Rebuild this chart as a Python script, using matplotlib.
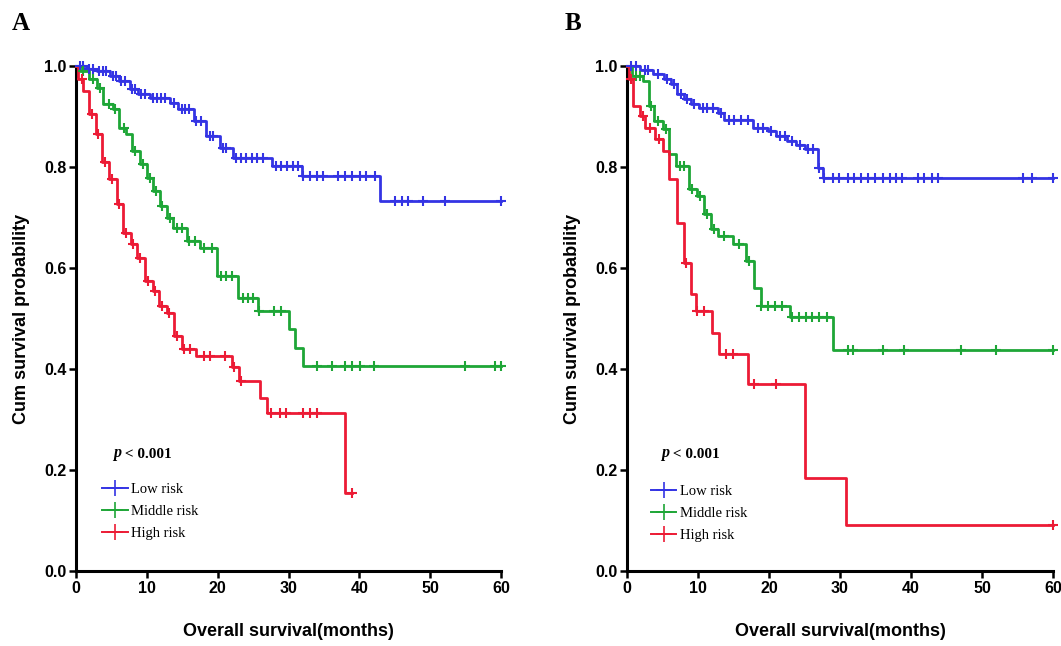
import matplotlib
matplotlib.use("Agg")
import matplotlib.pyplot as plt
from matplotlib.lines import Line2D

# ---------------- data ----------------
groups = ["Low risk", "Middle risk", "High risk"]
colors = ["#3434e4", "#1ea637", "#ec1b35"]

# Panel A
A_low_t = [1.5, 2.9, 4.8, 6.0, 7.6, 8.8, 10.4, 13.3, 14.4, 16.6, 18.4, 20.3, 22.2, 27.6, 31.9, 42.9]
A_low_s = [0.995, 0.99, 0.98, 0.97, 0.954, 0.944, 0.937, 0.927, 0.914, 0.891, 0.861, 0.838, 0.818, 0.802, 0.782, 0.733]
A_low_c = [0.5, 1.0, 1.9, 2.4, 3.3, 3.8, 4.3, 5.2, 5.6, 6.4, 6.9, 7.9, 8.3, 9.2, 9.7, 10.8, 11.4, 12.0,
           12.6, 13.8, 14.9, 15.4, 16.0, 17.0, 17.6, 18.9, 19.4, 20.7, 21.2, 22.6, 23.3, 24.0, 24.8,
           25.6, 26.4, 28.3, 29.0, 29.8, 30.6, 31.3, 32.1, 33.0, 34.0, 34.9, 37.0, 38.0, 38.9, 40.1,
           41.0, 42.2, 45.0, 46.0, 46.9, 49.0, 52.1, 60.0]

A_mid_t = [0.5, 1.8, 2.9, 3.8, 5.2, 6.0, 7.1, 7.9, 9.0, 10.0, 10.9, 11.9, 12.8, 13.7, 15.6, 17.5, 19.9, 22.9, 25.7, 30.0, 30.9, 32.0]
A_mid_s = [0.99, 0.975, 0.957, 0.924, 0.914, 0.878, 0.865, 0.832, 0.805, 0.779, 0.753, 0.723, 0.70, 0.68, 0.653, 0.64, 0.584, 0.541, 0.515, 0.479, 0.442, 0.406]
A_mid_c = [1.0, 2.4, 3.4, 4.6, 5.5, 6.8, 8.3, 9.4, 10.4, 11.3, 12.2, 13.2, 14.2, 14.9, 16.0, 16.8, 18.0,
           19.2, 20.5, 21.2, 22.0, 23.6, 24.3, 25.0, 25.9, 28.0, 28.9, 34.0, 36.1, 38.0, 38.9, 40.1,
           42.0, 54.9, 59.1, 60.0]

A_high_t = [0.3, 1.0, 1.9, 2.8, 3.7, 4.7, 5.8, 6.7, 7.7, 8.6, 9.8, 10.9, 11.7, 12.8, 13.9, 14.9, 17.0, 22.0, 23.0, 26.0, 27.0, 38.0]
A_high_s = [0.975, 0.951, 0.905, 0.865, 0.809, 0.776, 0.726, 0.67, 0.647, 0.62, 0.574, 0.554, 0.525, 0.511, 0.465, 0.439, 0.426, 0.403, 0.376, 0.343, 0.313, 0.155]
A_high_c = [0.8, 2.2, 3.1, 4.1, 5.1, 6.1, 7.0, 8.0, 9.1, 10.1, 11.2, 12.1, 13.1, 14.2, 15.2, 16.1, 18.0,
            18.9, 21.0, 22.3, 23.3, 27.5, 28.8, 29.7, 32.1, 33.0, 34.0, 38.9]

# Panel B
B_low_t = [1.9, 3.6, 5.2, 6.2, 7.1, 8.0, 9.0, 10.2, 12.8, 13.7, 17.7, 19.8, 21.0, 22.6, 23.8, 25.0, 26.9, 27.6]
B_low_s = [0.993, 0.984, 0.974, 0.964, 0.944, 0.934, 0.924, 0.917, 0.907, 0.894, 0.878, 0.871, 0.861, 0.851, 0.843, 0.835, 0.799, 0.779]
B_low_c = [0.6, 1.2, 2.5, 3.0, 4.3, 5.6, 6.6, 7.6, 8.5, 9.5, 10.7, 11.3, 12.1, 13.2, 14.3, 15.0, 16.0,
           17.0, 18.4, 19.1, 20.3, 21.6, 22.2, 23.2, 24.4, 25.5, 26.2, 27.0, 27.8, 29.0, 29.9, 31.1,
           32.0, 33.0, 33.9, 34.9, 36.0, 37.0, 37.9, 38.8, 41.0, 41.9, 42.9, 43.8, 55.8, 57.0, 60.0]

B_mid_t = [0.75, 2.2, 3.1, 3.8, 5.0, 5.9, 6.9, 8.75, 9.9, 10.9, 11.8, 12.8, 14.9, 16.75, 17.9, 18.9, 22.9, 29.0]
B_mid_s = [0.98, 0.97, 0.921, 0.891, 0.875, 0.825, 0.802, 0.756, 0.743, 0.706, 0.677, 0.663, 0.647, 0.614, 0.561, 0.525, 0.502, 0.437]
B_mid_c = [1.3, 1.9, 3.4, 4.4, 5.5, 7.5, 8.0, 9.2, 10.3, 11.2, 12.2, 13.7, 15.8, 17.2, 18.9, 19.9, 20.8,
           21.8, 23.3, 24.2, 25.2, 26.1, 27.1, 28.1, 31.1, 31.8, 36.0, 39.0, 47.0, 52.0, 60.0]

B_high_t = [0.3, 0.8, 1.9, 2.6, 4.0, 5.0, 5.9, 7.1, 8.0, 9.0, 9.7, 12.0, 13.0, 17.0, 25.0, 30.9]
B_high_s = [0.974, 0.921, 0.901, 0.878, 0.855, 0.832, 0.776, 0.69, 0.61, 0.548, 0.515, 0.472, 0.430, 0.370, 0.185, 0.092]
B_high_c = [0.5, 2.2, 3.3, 4.5, 8.3, 9.8, 10.8, 13.9, 14.9, 17.9, 21.0, 60.0]

xticks = [0, 10, 20, 30, 40, 50, 60]
yticks = [0.0, 0.2, 0.4, 0.6, 0.8, 1.0]
p_text = "< 0.001"
xlabel = "Overall survival(months)"
ylabel = "Cum survival probability"

panels = {
    "A": [(A_low_t, A_low_s, A_low_c), (A_mid_t, A_mid_s, A_mid_c), (A_high_t, A_high_s, A_high_c)],
    "B": [(B_low_t, B_low_s, B_low_c), (B_mid_t, B_mid_s, B_mid_c), (B_high_t, B_high_s, B_high_c)],
}

# ---------------- drawing ----------------
SANS = ["Liberation Sans", "DejaVu Sans"]
SERIF = ["Liberation Serif", "DejaVu Serif"]

fig = plt.figure(figsize=(10.61, 6.46), dpi=100)
W, H = 1061, 646
ax_px = {"A": (76, 501), "B": (627, 1053)}
y_top, y_bot = 66, 571

def surv_at(t_list, s_list, c):
    v = 1.0
    for t, s in zip(t_list, s_list):
        if t <= c:
            v = s
    return v

layout = {
    "A": dict(p_xy=(5.2, 0.225), leg_xy=(3.7, 0.175), letter=(12, 30)),
    "B": dict(p_xy=(4.8, 0.225), leg_xy=(3.35, 0.171), letter=(565, 30)),
}

for key, curves in panels.items():
    x0, x1 = ax_px[key]
    ax = fig.add_axes([x0 / W, 1 - y_bot / H, (x1 - x0) / W, (y_bot - y_top) / H])
    handles = []
    for (t, s, c), col, name in zip(curves, colors, groups):
        end = max(t + c)
        xs = [0] + t + [end]
        ys = [1.0] + s + [s[-1]]
        ax.step(xs, ys, where="post", color=col, lw=2.0, clip_on=False, zorder=3)
        cy = [surv_at(t, s, ci) for ci in c]
        ax.plot(c, cy, ls="none", marker="+", ms=7.5, mew=1.5, color=col, clip_on=False, zorder=4)
        handles.append(Line2D([], [], color=col, lw=1.4, marker="+", ms=12, mew=1.2))
    ax.set_xlim(0, 60)
    ax.set_ylim(0, 1.0)
    ax.set_xticks(xticks)
    ax.set_yticks(yticks)
    ax.set_yticklabels([f"{v:.1f}" for v in yticks])
    for sp in ["top", "right"]:
        ax.spines[sp].set_visible(False)
    for sp in ["left", "bottom"]:
        ax.spines[sp].set_linewidth(2.2)
    ax.tick_params(direction="out", length=5, width=1.8, labelsize=11.5, pad=2)
    for lab in ax.get_xticklabels() + ax.get_yticklabels():
        lab.set_fontweight("bold")
        lab.set_family(SANS)
    ax.set_xlabel(xlabel, fontsize=13, fontweight="bold", family=SANS, labelpad=20)
    ax.set_ylabel(ylabel, fontsize=13, fontweight="bold", family=SANS, labelpad=10)

    lay = layout[key]
    pt = ax.text(lay["p_xy"][0], lay["p_xy"][1], "p", fontsize=11.5, fontweight="bold",
                 style="italic", family=SERIF, va="baseline", ha="left")
    ax.annotate(" " + p_text, xy=(1, 0), xycoords=pt, fontsize=11, fontweight="bold",
                family=SERIF, va="bottom", ha="left")
    ax.legend(handles, groups, loc="upper left", bbox_to_anchor=lay["leg_xy"],
              bbox_transform=ax.transData, frameon=False, borderpad=0, borderaxespad=0,
              handlelength=1.75, handletextpad=0.25, labelspacing=0.62,
              prop=dict(family=SERIF, size=10.5))
    fig.text(lay["letter"][0] / W, 1 - lay["letter"][1] / H, key, fontsize=18,
             fontweight="bold", family=SERIF, ha="left", va="baseline")

fig.savefig("out.png", dpi=100)
